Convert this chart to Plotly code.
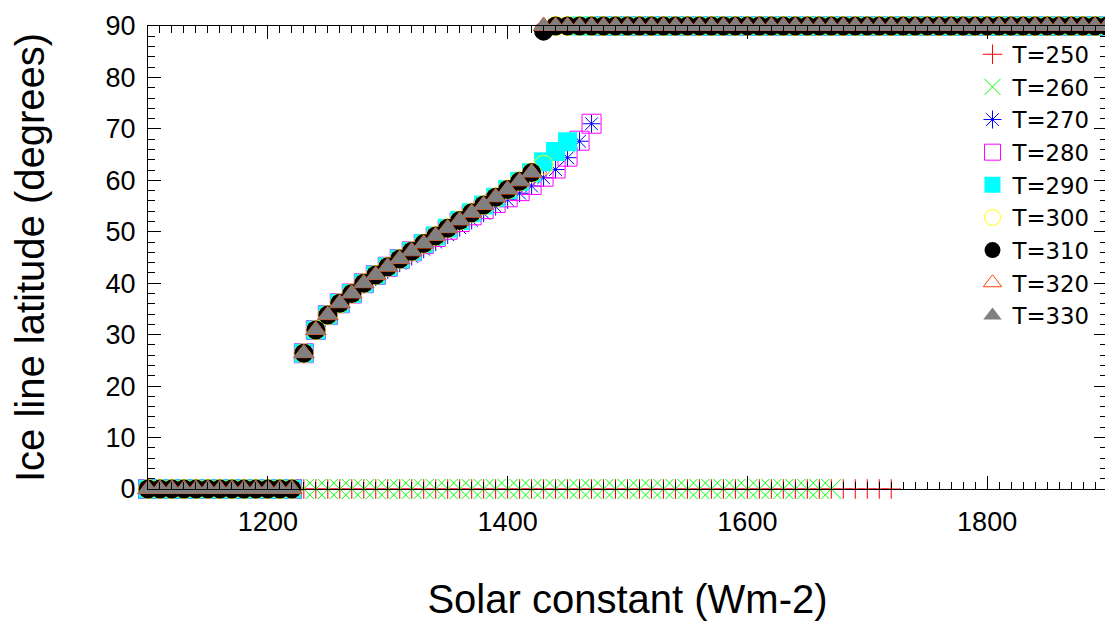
import plotly.graph_objects as go

# Solar constant grid (Wm-2), step 10
solar_constant = list(range(1100, 1910, 10))

# Ice-line latitude (degrees)
curve_hot = [26.4, 30.9, 33.8, 36.1, 38.0, 40.0, 41.6, 43.2, 44.7, 46.2,
             47.7, 49.2, 50.7, 52.2, 53.7, 55.2, 56.7, 58.2, 59.8, 61.5]      # S = 1230..1420
curve_280 = [26.4, 30.9, 33.8, 36.1, 38.0, 40.0, 41.6, 43.2, 44.7, 46.2,
             47.6, 49.0, 50.4, 51.9, 53.2, 54.4, 55.6, 56.7, 57.9, 59.1]
tail_280 = [60.7, 62.3, 64.6, 67.7, 71.0]                                     # S = 1430..1470
curve_270 = [26.4, 30.9, 33.8, 36.1, 38.0, 39.8, 41.2, 42.6, 43.9, 45.2,
             46.6, 48.0, 49.4, 50.8, 52.2, 53.6, 54.9, 56.2, 57.5, 58.9]
tail_270 = [60.5, 62.1, 64.4, 67.6, 71.0]
tail_290 = [63.6, 65.6, 67.5]                                                 # S = 1430..1450
tail_300 = [63.0]                                                             # S = 1430
tail_310 = [89.0]

ice_T250 = [0] * 63 + [90] * 18
ice_T260 = [0] * 58 + [90] * 23
ice_T270 = [0] * 13 + curve_270 + tail_270 + [90] * 43
ice_T280 = [0] * 13 + curve_280 + tail_280 + [90] * 43
ice_T290 = [0] * 13 + curve_hot + tail_290 + [90] * 45
ice_T300 = [0] * 13 + curve_hot + tail_300 + [90] * 47
ice_T310 = [0] * 13 + curve_hot + tail_310 + [90] * 47
ice_T320 = [0] * 13 + curve_hot + [90] * 48
ice_T330 = [0] * 13 + curve_hot + [90] * 48

series_names = ["T=250", "T=260", "T=270", "T=280", "T=290", "T=300", "T=310", "T=320", "T=330"]
series_values = [ice_T250, ice_T260, ice_T270, ice_T280, ice_T290, ice_T300, ice_T310, ice_T320, ice_T330]
series_colors = ["#ff0000", "#00ff00", "#0000ff", "#ff00ff", "#00ffff", "#ffff00", "#000000", "#ff4500", "#808080"]
series_symbols = ["cross-thin-open", "x-thin-open", "asterisk-open", "square-open", "square",
                  "circle-open", "circle", "triangle-up-open", "triangle-up"]
series_sizes = [14, 20, 15, 19, 19, 19, 19, 18, 18]

x_ticks = [1200, 1400, 1600, 1800]
y_ticks = [0, 10, 20, 30, 40, 50, 60, 70, 80, 90]

fig = go.Figure()
for name, vals, col, sym, sz in zip(series_names, series_values, series_colors, series_symbols, series_sizes):
    fig.add_trace(go.Scatter(
        x=solar_constant, y=vals, mode="markers", name=name, cliponaxis=False,
        marker=dict(symbol=sym, size=sz, color=col, line=dict(color=col, width=1 if "open" in sym else 0)),
    ))

tick_font = dict(family="Liberation Sans, Arial, sans-serif", size=27, color="black")
title_font = dict(family="Liberation Sans, Arial, sans-serif", size=40, color="black")

# page body adds an 8px offset; figure sized so it fits the 1113x626 window
fig.update_layout(
    width=1105, height=618,
    margin=dict(l=140, r=6, t=18, b=137, autoexpand=False),
    plot_bgcolor="white", paper_bgcolor="white",
    showlegend=True,
    legend=dict(x=0.988, y=0.985, xanchor="right", yanchor="top",
                font=dict(family="DejaVu Sans", size=22.8, color="black"),
                bgcolor="rgba(0,0,0,0)", borderwidth=0),
)
fig.update_xaxes(
    range=[1100, 1900], tickvals=x_ticks, ticktext=[str(v) for v in x_ticks],
    showline=True, linecolor="black", linewidth=1, mirror="ticks",
    ticks="inside", ticklen=13, tickwidth=1, tickcolor="black",
    minor=dict(ticks="inside", ticklen=7, dtick=10, tickcolor="black", tickwidth=1, showgrid=False),
    showgrid=False, zeroline=False, tickfont=tick_font, ticklabelstandoff=9,
    automargin=False,
    title=dict(text="Solar constant (Wm-2)", font=title_font, standoff=48),
)
fig.update_yaxes(
    range=[0, 90], tickvals=y_ticks, ticktext=[str(v) for v in y_ticks],
    showline=True, linecolor="black", linewidth=1, mirror="ticks",
    ticks="inside", ticklen=13, tickwidth=1, tickcolor="black",
    minor=dict(ticks="inside", ticklen=7, dtick=2, tickcolor="black", tickwidth=1, showgrid=False),
    showgrid=False, zeroline=False, tickfont=tick_font, ticklabelstandoff=6,
    automargin=False,
    title=dict(text="Ice line latitude (degrees)", font=title_font, standoff=51),
)

fig.write_html("out.html")
